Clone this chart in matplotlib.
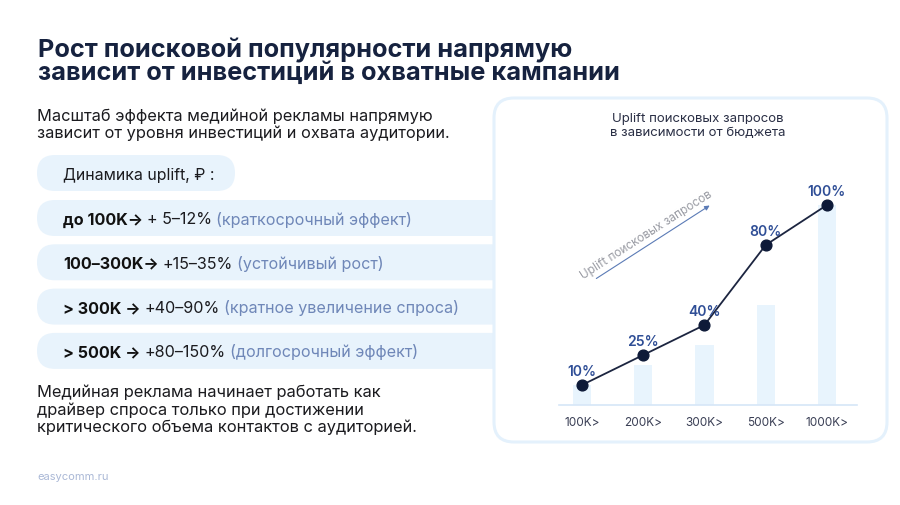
import matplotlib.pyplot as plt
from matplotlib.patches import FancyBboxPatch

plt.rcParams['font.family'] = ['Inter', 'DejaVu Sans']

# chart data
budget_labels = ["100K>", "200K>", "300K>", "500K>", "1000K>"]
budgets = [100, 200, 300, 500, 1000]          # thousand rubles
uplift = [10, 25, 40, 80, 100]                 # % uplift of search queries

title = "Рост поисковой популярности напрямую\nзависит от инвестиций в охватные кампании"
intro = "Масштаб эффекта медийной рекламы напрямую\nзависит от уровня инвестиций и охвата аудитории."
pill_head = "Динамика uplift, ₽ :"
# (bold part, value part, comment)
steps = [
    ("до 100K→", "+ 5–12%", "(краткосрочный эффект)"),
    ("100–300K→", "+15–35%", "(устойчивый рост)"),
    ("> 300K →", "+40–90%", "(кратное увеличение спроса)"),
    ("> 500K →", "+80–150%", "(долгосрочный эффект)"),
]
outro = ("Медийная реклама начинает работать как\nдрайвер спроса только при достижении\n"
         "критического объема контактов с аудиторией.")

W, H = 900, 506
fig = plt.figure(figsize=(9, 5.06), dpi=100)
bg = fig.add_axes([0, 0, 1, 1])
bg.set_xlim(0, W)
bg.set_ylim(H, 0)
bg.axis("off")

PILL = "#e8f3fc"
DARK = "#16223f"

# title and texts (multi-line baseline = last line)
bg.text(38, 80, title, fontsize=18.3, fontweight="bold", color=DARK,
        va="baseline", linespacing=0.94)
bg.text(37, 138, intro, fontsize=11.8, color="#1b1b1f", va="baseline", linespacing=1.14)
bg.text(37, 432, outro, fontsize=11.85, color="#1b1b1f", va="baseline", linespacing=1.15)
bg.text(37, 480, "easycomm.ru", fontsize=8, color="#aab8d6", va="baseline")

# pills
bg.add_patch(FancyBboxPatch((37, 156), 198, 36, boxstyle="round,pad=0,rounding_size=18",
                            fc=PILL, ec="none", zorder=1))
bg.text(63, 180, pill_head, fontsize=11.4, color="#1b1b1f", va="baseline", zorder=3)

fig.canvas.draw()
r = fig.canvas.get_renderer()


def seg_width(t):
    return t.get_window_extent(r).width


for i, (b, v, c) in enumerate(steps):
    top = 201 + i * 44.3
    bg.add_patch(FancyBboxPatch((37, top), 520, 36, boxstyle="round,pad=0,rounding_size=18",
                                fc=PILL, ec="none", zorder=1))
    x = 63
    base = top + 23.5
    gap = 4
    for txt, wt, col in [(b, "bold", "#111111"), (v, "normal", "#1b1b1f"), (c, "normal", "#6f87b8")]:
        t = bg.text(x, base, txt, fontsize=11.6, fontweight=wt, color=col, va="baseline", zorder=3)
        x += seg_width(t) + gap

# chart panel
bg.add_patch(FancyBboxPatch((494, 99), 393, 344, boxstyle="round,pad=0,rounding_size=20",
                            fc="white", ec="#e4f1fc", lw=2.2, zorder=2))
bg.text(698, 126, "Uplift поисковых запросов\nв зависимости от бюджета", fontsize=9.5,
        color="#2a2f45", ha="center", va="center", linespacing=1.32, zorder=3)

# diagonal arrow with label
bg.annotate("", xy=(712, 205), xytext=(594, 281),
            arrowprops=dict(arrowstyle="-|>", color="#5b7bb6", lw=0.8,
                            mutation_scale=7), zorder=3)
bg.text(646, 235, "Uplift поисковых запросов", fontsize=8.5, color="#9a9ca4",
        ha="center", va="center", rotation=32.8, rotation_mode="anchor", zorder=3)

# chart axes: baseline at y=406 px, 2 px per %
x_left, x_right, y_base, y_top = 559, 857, 406, 180
ax = fig.add_axes([x_left / W, (H - y_base) / H, (x_right - x_left) / W, (y_base - y_top) / H])
ax.set_zorder(4)
ax.patch.set_alpha(0)
xs = list(range(len(budgets)))
ax.set_xlim(-0.375, 4.49)
ax.set_ylim(0, (y_base - y_top) / 2)

bar_height = [b / budgets[-1] * 100 for b in budgets]
ax.bar(xs, bar_height, width=0.3, color="#e8f4fd", zorder=1)
ax.plot(xs, uplift, color="#1c2540", lw=1.3, zorder=2)
ax.scatter(xs, uplift, s=60, color="#0e1a38", zorder=3)
for xv, yv in zip(xs, uplift):
    ax.annotate(f"{yv}%", (xv, yv), xytext=(0, 5), textcoords="offset points",
                ha="center", va="bottom", fontsize=10, fontweight="semibold", color="#2f4e96")

for s in ["top", "right", "left"]:
    ax.spines[s].set_visible(False)
ax.spines["bottom"].set_color("#d6e6f7")
ax.spines["bottom"].set_linewidth(1.2)
ax.set_yticks([])
ax.set_xticks(xs)
ax.set_xticklabels(budget_labels, fontsize=8.5, color="#3a3f55")
ax.tick_params(axis="x", length=0, pad=8)

fig.savefig("out.png", dpi=100)
